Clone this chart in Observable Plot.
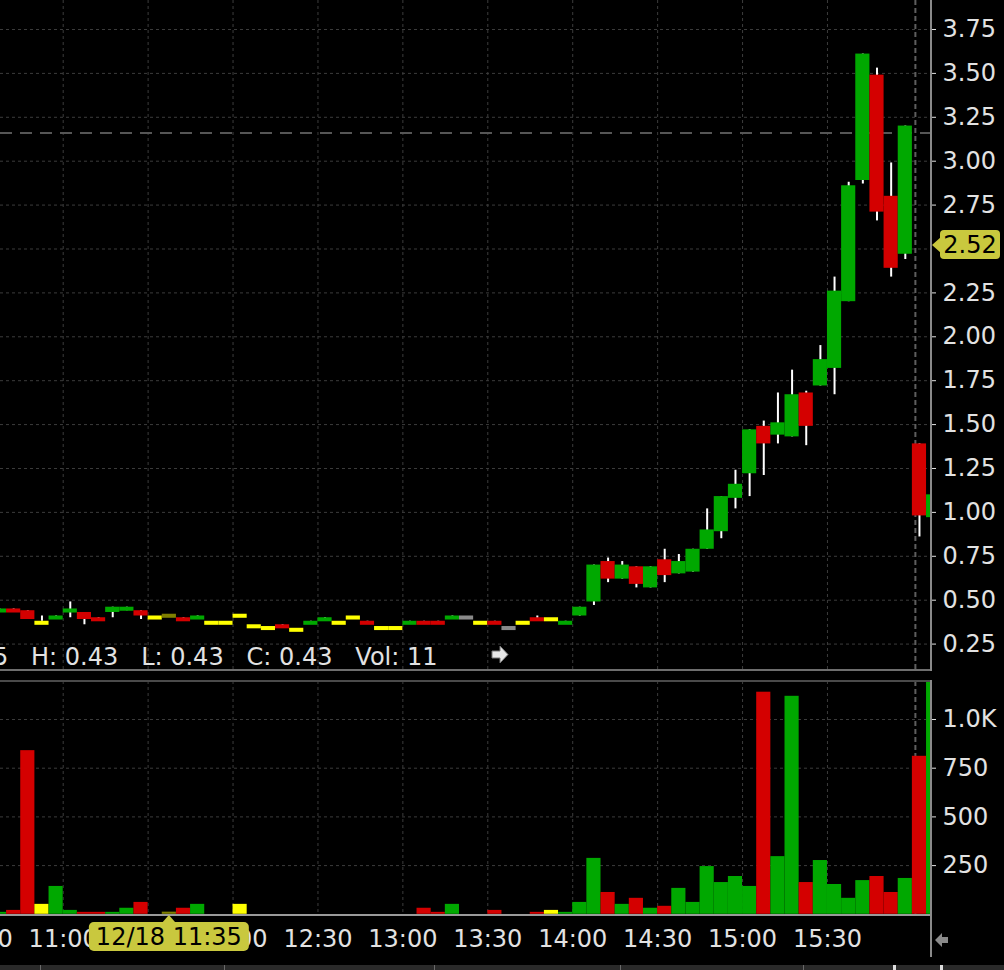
<!DOCTYPE html>
<html>
<head>
<meta charset="utf-8">
<script src="https://cdn.jsdelivr.net/npm/d3@7"></script>
<script src="https://cdn.jsdelivr.net/npm/@observablehq/plot@0.6"></script>
<style>
html, body { margin: 0; padding: 0; background: #000; }
#wrap { position: relative; width: 1004px; height: 970px; background: #000; overflow: hidden; font-family: "DejaVu Sans", sans-serif; }
#price { position: absolute; left: 0; top: 0; }
#vol { position: absolute; left: 0; top: 672px; }
#over { position: absolute; left: 0; top: 0; pointer-events: none; }
</style>
</head>
<body>
<div id="wrap">
  <div id="price"></div>
  <div id="vol"></div>
  <svg id="over" width="1004" height="970"></svg>
</div>
<script>
// ---------- data (5-minute bars, 12/18) ----------
const times = [
  "10:35","10:40","10:45","10:50","10:55",
  "11:00","11:05","11:10","11:15","11:20","11:25","11:30","11:35","11:40","11:45","11:50","11:55",
  "12:00","12:05","12:10","12:15","12:20","12:25","12:30","12:35","12:40","12:45","12:50","12:55",
  "13:00","13:05","13:10","13:15","13:20","13:25","13:30","13:35","13:40","13:45","13:50","13:55",
  "14:00","14:05","14:10","14:15","14:20","14:25","14:30","14:35","14:40","14:45","14:50","14:55",
  "15:00","15:05","15:10","15:15","15:20","15:25","15:30","15:35","15:40","15:45","15:50","15:55",
  "16:00","16:05"
];
const opens = [
  0.43,0.45,0.44,0.38,0.39,
  0.43,0.43,0.40,0.43,0.44,0.44,0.41,0.42,0.40,0.39,0.38,0.38,
  0.42,0.36,0.35,0.36,0.34,0.37,0.38,0.38,0.41,0.38,0.35,0.35,
  0.37,0.38,0.38,0.39,0.41,0.38,0.38,0.35,0.38,0.40,0.40,0.37,
  0.41,0.49,0.72,0.62,0.69,0.57,0.73,0.65,0.66,0.79,0.89,1.08,
  1.22,1.49,1.44,1.43,1.68,1.72,1.82,2.20,2.89,3.49,2.80,2.47,
  1.39,0.97
];
const highs = [
  0.45,0.45,0.44,0.41,0.41,
  0.49,0.43,0.40,0.46,0.46,0.44,0.41,0.42,0.40,0.41,0.38,0.38,
  0.42,0.36,0.35,0.36,0.34,0.38,0.40,0.38,0.41,0.38,0.35,0.35,
  0.38,0.38,0.38,0.41,0.41,0.38,0.38,0.35,0.38,0.41,0.40,0.38,
  0.46,0.70,0.74,0.72,0.69,0.69,0.79,0.76,0.79,1.02,1.09,1.24,
  1.47,1.52,1.68,1.81,1.69,1.95,2.34,2.88,3.61,3.53,2.99,3.20,
  1.39,1.10
];
const lows = [
  0.43,0.43,0.39,0.38,0.39,
  0.40,0.36,0.38,0.40,0.44,0.39,0.41,0.42,0.38,0.39,0.38,0.38,
  0.42,0.36,0.35,0.35,0.34,0.37,0.38,0.38,0.41,0.37,0.35,0.35,
  0.37,0.37,0.37,0.39,0.41,0.38,0.37,0.35,0.38,0.38,0.40,0.37,
  0.41,0.47,0.60,0.62,0.57,0.57,0.60,0.65,0.66,0.79,0.85,1.02,
  1.09,1.21,1.39,1.43,1.38,1.72,1.67,2.20,2.87,2.66,2.34,2.44,
  0.86,0.97
];
const closes = [
  0.45,0.43,0.39,0.38,0.41,
  0.45,0.39,0.38,0.46,0.46,0.41,0.41,0.42,0.38,0.41,0.38,0.38,
  0.42,0.36,0.35,0.35,0.34,0.38,0.40,0.38,0.41,0.37,0.35,0.35,
  0.38,0.37,0.37,0.41,0.41,0.38,0.37,0.35,0.38,0.38,0.40,0.38,
  0.46,0.70,0.62,0.70,0.59,0.69,0.64,0.72,0.79,0.90,1.09,1.16,
  1.47,1.39,1.51,1.67,1.49,1.87,2.26,2.86,3.61,2.71,2.39,3.20,
  0.98,1.10
];
const volumes = [
  10,20,840,51,143,
  20,10,10,10,31,61,0,11,31,51,0,0,
  51,0,0,0,0,0,0,0,0,0,0,0,
  0,31,10,51,0,0,20,0,0,10,20,10,
  61,287,112,51,82,31,41,133,61,245,163,194,
  143,1140,296,1119,163,276,153,82,173,194,112,184,
  811,1250
];
const kinds = [
  "up","down","down","flat","up",
  "up","down","down","up","up","down","flat","hover","down","up","flat","flat",
  "flat","flat","flat","down","flat","up","up","flat","flat","down","flat","flat",
  "up","down","down","up","idle","flat","down","idle","flat","down","flat","up",
  "up","up","down","up","down","up","down","up","up","up","up","up",
  "up","down","up","up","down","up","up","up","up","down","down","up",
  "down","up"
];
const kindDomain = ["up","down","flat","hover","idle"];
const kindColors = ["#00a800","#d40000","#ffff00","#808000","#8a8a8a"];

const priceTicks = [0.25,0.5,0.75,1.0,1.25,1.5,1.75,2.0,2.25,2.5,2.75,3.0,3.25,3.5,3.75];
const volumeTicks = [250,500,750,1000];
const timeTicks = ["10:30","11:00","11:30","12:00","12:30","13:00","13:30","14:00","14:30","15:00","15:30"];
const refLine = [3.16];
const lastPrice = [2.52];
const sessionBreak = ["16:00"];
const cursorDate = "12/18";
const cursorTime = "11:35";
const cursorInfo = ["H: 0.43", "L: 0.43", "C: 0.43", "Vol: 11"];

// ---------- helpers ----------
const toMin = s => { const [h, m] = s.split(":").map(Number); return h * 60 + m; };
const MIN_BODY = 0.023;
const bars = times.map((t, i) => {
  const o = opens[i], c = closes[i];
  const top = Math.max(o, c);
  const bot = Math.min(Math.min(o, c), top - MIN_BODY);
  return {t: toMin(t), o, c, h: highs[i], l: lows[i], v: volumes[i], k: kinds[i], top, bot};
});

const W = 1004;
const xDomain = [637.85, 966.4];
const xRange = [0, 930];
const gridStyle = {stroke: "#3c3c3c", strokeOpacity: 1, strokeDasharray: "3,3"};
const font = "DejaVu Sans";
const labelColor = "#e2e2e2";
// the last-price badge hides the tick label it sits on
const priceLabelTicks = priceTicks.filter(p => Math.abs(p - lastPrice[0]) > 0.1);

// ---------- price pane ----------
const price = Plot.plot({
  width: W, height: 672,
  marginLeft: 0, marginRight: 74, marginTop: 0, marginBottom: 2,
  style: {background: "#000", color: labelColor, fontFamily: font, fontSize: "24px"},
  x: {domain: xDomain, range: xRange, axis: null},
  y: {domain: [0.0996, 3.9151], range: [670, 0], axis: null},
  color: {domain: kindDomain, range: kindColors},
  marks: [
    Plot.gridY(priceTicks, gridStyle),
    Plot.gridX(timeTicks.map(toMin), gridStyle),
    Plot.ruleY(refLine, {stroke: "#565656", strokeWidth: 2, strokeDasharray: "12,8"}),
    Plot.ruleX(sessionBreak.map(toMin), {stroke: "#5e5e5e", strokeWidth: 2, strokeDasharray: "5,3", dx: 3}),
    Plot.ruleX(bars, {x: d => d.t + 2.5, y1: "l", y2: "h", stroke: "#ffffff", strokeWidth: 2, clip: true}),
    Plot.rect(bars, {x1: "t", x2: d => d.t + 5, y1: "bot", y2: "top", fill: "k", clip: true}),
    Plot.axisY(priceLabelTicks, {anchor: "right", tickFormat: d => d.toFixed(2), tickSize: 5, tickPadding: 7,
      fontSize: 24, color: labelColor, label: null})
  ]
});
document.getElementById("price").append(price);

// ---------- volume pane ----------
const vol = Plot.plot({
  width: W, height: 298,
  marginLeft: 0, marginRight: 74, marginTop: 9, marginBottom: 56,
  style: {background: "#000", color: labelColor, fontFamily: font, fontSize: "24px"},
  x: {domain: xDomain, range: xRange, axis: null},
  y: {domain: [0, 1195], range: [241.8, 9], axis: null},
  color: {domain: kindDomain, range: kindColors},
  marks: [
    Plot.gridY(volumeTicks, gridStyle),
    Plot.gridX(timeTicks.map(toMin), gridStyle),
    Plot.ruleX(sessionBreak.map(toMin), {stroke: "#5e5e5e", strokeWidth: 2, strokeDasharray: "5,3", dx: 3}),
    Plot.rectY(bars, {x1: "t", x2: d => d.t + 5, y: "v", fill: "k", clip: true}),
    Plot.axisY(volumeTicks, {anchor: "right", tickFormat: d => d >= 1000 ? (d / 1000).toFixed(1) + "K" : String(d),
      tickSize: 5, tickPadding: 7, fontSize: 24, color: labelColor, label: null}),
    Plot.text(timeTicks, {x: d => toMin(d), text: d => d, frameAnchor: "bottom", lineAnchor: "top",
      dy: 15, fontSize: 24, fill: labelColor})
  ]
});
document.getElementById("vol").append(vol);

// ---------- frame lines, badges & decorations ----------
const ov = d3.select("#over");
const badge = "#c9c83e";
// pane borders
ov.append("rect").attr("x", 0).attr("y", 669).attr("width", 932).attr("height", 2).attr("fill", "#6e6e6e");
ov.append("rect").attr("x", 930).attr("y", 0).attr("width", 2).attr("height", 671).attr("fill", "#8a8a8a");
ov.append("rect").attr("x", 0).attr("y", 680).attr("width", 931).attr("height", 2).attr("fill", "#4a4a4a");
ov.append("rect").attr("x", 0).attr("y", 914).attr("width", 932).attr("height", 2).attr("fill", "#9a9a9a");
ov.append("rect").attr("x", 930).attr("y", 680).attr("width", 2).attr("height", 277).attr("fill", "#8a8a8a");
// scrollbar strip
ov.append("rect").attr("x", 0).attr("y", 965).attr("width", 1004).attr("height", 5).attr("fill", "#2a2a2a");
[40, 224, 434, 620, 803].forEach(x => ov.append("rect").attr("x", x).attr("y", 965).attr("width", 1).attr("height", 5).attr("fill", "#6a6a6a"));
[893, 940].forEach(x => ov.append("rect").attr("x", x).attr("y", 965).attr("width", 3).attr("height", 5).attr("fill", "#dddddd"));

// last price badge
const yLast = price.scale("y").apply(lastPrice[0]);
ov.append("path").attr("d", `M932,${yLast} L941,${yLast - 8} L941,${yLast + 8} Z`).attr("fill", badge);
ov.append("rect").attr("x", 940).attr("y", yLast - 15).attr("width", 60).attr("height", 29).attr("rx", 4).attr("fill", badge);
ov.append("text").attr("x", 970).attr("y", yLast + 8.5).attr("text-anchor", "middle")
  .attr("font-family", font).attr("font-size", 24).attr("fill", "#000").text(lastPrice[0].toFixed(2));

// crosshair time badge
const xCur = vol.scale("x").apply(toMin(cursorTime) + 2.5);
ov.append("path").attr("d", `M${xCur},915 L${xCur - 7},923 L${xCur + 7},923 Z`).attr("fill", badge);
ov.append("rect").attr("x", xCur - 80).attr("y", 922).attr("width", 160).attr("height", 29).attr("rx", 5).attr("fill", badge);
ov.append("text").attr("x", xCur).attr("y", 945).attr("text-anchor", "middle")
  .attr("font-family", font).attr("font-size", 24).attr("fill", "#000").text(cursorDate + " " + cursorTime);

// crosshair info line
ov.append("text").attr("x", -61).attr("y", 665).attr("xml:space", "preserve").style("white-space", "pre")
  .attr("font-family", font).attr("font-size", 24).attr("fill", labelColor)
  .text(cursorTime + "   " + cursorInfo.join("   "));
// arrow icon
ov.append("path").attr("d", "M492,651 L500,651 L500,646 L508,654.5 L500,663 L500,658 L492,658 Z")
  .attr("fill", "#e6e6e6").attr("stroke", "#777").attr("stroke-width", 1);
// scroll arrow
ov.append("path").attr("d", "M935,940 L942,933 L942,937 L948,937 L948,943 L942,943 L942,947 Z").attr("fill", "#8a8a8a");
</script>
</body>
</html>
